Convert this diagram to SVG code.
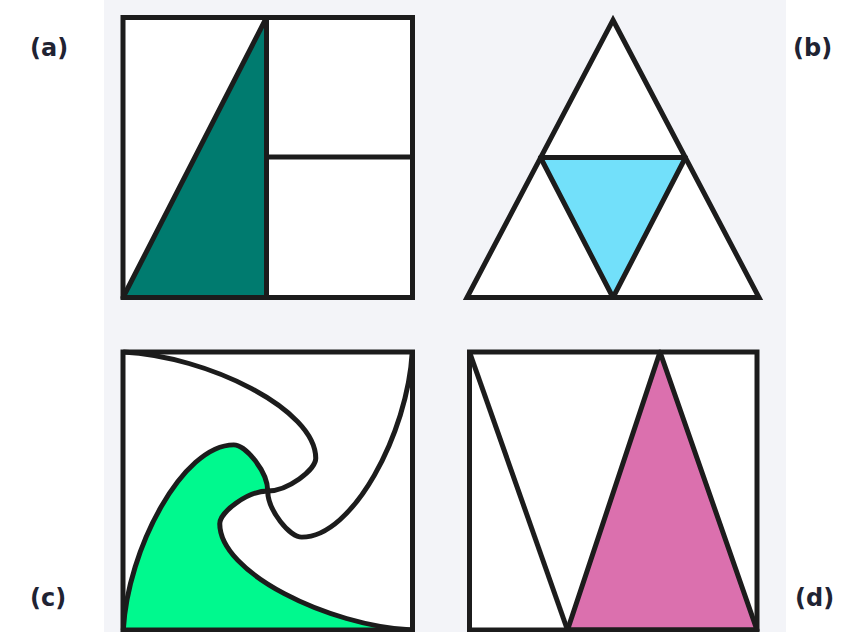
<svg xmlns="http://www.w3.org/2000/svg" width="861" height="632" viewBox="0 0 861 632">
<style>
.ln{stroke:#1c1c1c;stroke-width:5;stroke-linejoin:miter;fill:none}
.lr{stroke:#1c1c1c;stroke-width:5;stroke-linejoin:round;fill:none}
.wh{fill:#ffffff}
.lbl{font-family:"DejaVu Sans","Verdana",sans-serif;font-weight:bold;font-size:24px;fill:#1f2333}
</style>
<rect x="0" y="0" width="861" height="632" fill="#ffffff"/>
<rect x="104" y="0" width="682" height="632" fill="#f3f4f8"/>

<g id="panel-a">
  <rect x="123" y="17.5" width="289.5" height="280" class="wh"/>
  <polygon points="123,297.5 266.5,17.5 266.5,297.5" fill="#007b6f"/>
  <polygon points="123,297.5 266.5,17.5 266.5,297.5" class="lr"/>
  <line x1="266.5" y1="157" x2="412.5" y2="157" class="ln"/>
  <rect x="123" y="17.5" width="289.5" height="280" class="ln"/>
  <text class="lbl" x="30" y="56">(a)</text>
</g>

<g id="panel-b">
  <polygon points="613,20 759,297.5 467,297.5" class="wh"/>
  <polygon points="540.5,157.5 685.5,157.5 613,297.5" fill="#72e0fa"/>
  <polygon points="540.5,157.5 685.5,157.5 613,297.5" class="lr"/>
  <polygon points="613,20 759,297.5 467,297.5" class="ln"/>
  <text class="lbl" x="793" y="56">(b)</text>
</g>

<g id="panel-c">
  <rect x="123" y="352" width="289.5" height="278" class="wh"/>
  <g transform="translate(267.75,491) scale(1,0.962)">
    <path d="M -144.5 144.5 C -140 60 -85 -48 -34 -48 C -22 -48 0 -20 0 0 C -20 0 -48 22 -48 34 C -48 85 60 140 144.5 144.5 Z" fill="#00f98e"/>
    <path d="M -144.5 -144.5 C -60 -140 48 -85 48 -34 C 48 -22 20 0 0 0" class="ln"/>
    <path d="M -144.5 -144.5 C -60 -140 48 -85 48 -34 C 48 -22 20 0 0 0" class="ln" transform="rotate(90)"/>
    <path d="M -144.5 -144.5 C -60 -140 48 -85 48 -34 C 48 -22 20 0 0 0" class="ln" transform="rotate(180)"/>
    <path d="M -144.5 -144.5 C -60 -140 48 -85 48 -34 C 48 -22 20 0 0 0" class="ln" transform="rotate(-90)"/>
  </g>
  <rect x="123" y="352" width="289.5" height="278" class="ln"/>
  <text class="lbl" x="30" y="606">(c)</text>
</g>

<g id="panel-d">
  <rect x="469.5" y="352" width="287.5" height="278" class="wh"/>
  <polygon points="567.5,630 660,352 757,630" fill="#db70ae"/>
  <polygon points="567.5,630 660,352 757,630" class="lr"/>
  <line x1="469.5" y1="352" x2="567.5" y2="630" class="lr"/>
  <rect x="469.5" y="352" width="287.5" height="278" class="ln"/>
  <text class="lbl" x="795" y="606">(d)</text>
</g>
</svg>
